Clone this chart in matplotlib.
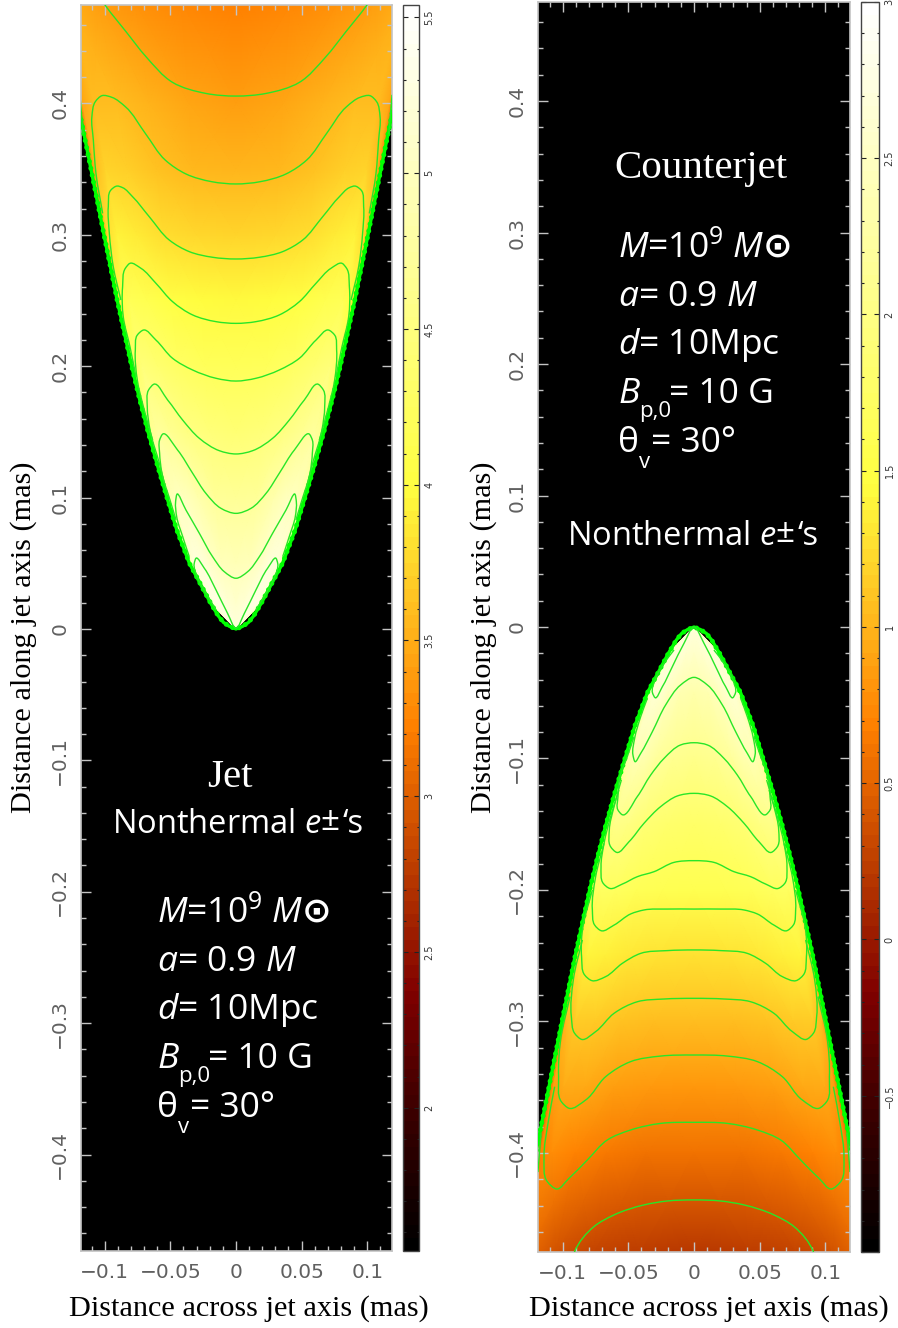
#!/usr/bin/env python
"""Jet / counterjet synchrotron maps: two tall panels with colour bars and contours."""
import numpy as np
import matplotlib as mpl
mpl.use("Agg")
import matplotlib.pyplot as plt
from matplotlib.colors import LinearSegmentedColormap
from matplotlib.cm import ScalarMappable
from matplotlib.colors import Normalize
from matplotlib.patches import PathPatch
from matplotlib.path import Path

W, H = 898, 1328
mpl.rcParams["mathtext.fontset"] = "custom"
mpl.rcParams["mathtext.rm"] = "Open Sans"
mpl.rcParams["mathtext.it"] = "Open Sans:italic"
mpl.rcParams["mathtext.fallback"] = "stix"

# jet edge, half width against distance along axis
EDGE_Z = [0, .002, .005, .01, .02, .035, .05, .075, .1, .125, .15, .175, .2, .25, .3, .35, .4, .476]
EDGE_X = [0, .005, .0095, .0135, .0195, .0275, .0355, .045, .0526, .06, .067, .0735, .0795, .0905, .1006, .1105, .1205, .14]

# map values, rows along the axis, columns as fraction of the half width
FRAC = [0, .3, .55, .75, .9, .97, 1]
JET_ROWS = [0, .02, .05, .1, .15, .2, .25, .3, .35, .4, .476]
JET_VALS = [
    [5.25, 5.25, 5.25, 5.25, 5.25, 5.25, 5.25],
    [5.13, 5.19, 5.25, 5.31, 5.25, 5.13, 4.88],
    [4.95, 4.99, 5.09, 5.25, 5.23, 5.0, 4.75],
    [4.69, 4.71, 4.88, 5.01, 5.0, 4.88, 4.63],
    [4.41, 4.45, 4.53, 4.66, 4.75, 4.63, 4.25],
    [4.19, 4.21, 4.28, 4.38, 4.45, 4.31, 3.9],
    [3.97, 3.99, 4.03, 4.12, 4.17, 4.0, 3.6],
    [3.73, 3.75, 3.8, 3.88, 3.93, 3.8, 3.4],
    [3.55, 3.57, 3.62, 3.7, 3.74, 3.6, 3.2],
    [3.41, 3.45, 3.53, 3.6, 3.6, 3.45, 3.1],
    [3.22, 3.26, 3.33, 3.41, 3.5, 3.4, 3.1],
]
CJET_ROWS = [0, -.02, -.05, -.1, -.15, -.2, -.25, -.3, -.35, -.4, -.476]
CJET_VALS = [
    [2.69, 2.69, 2.69, 2.69, 2.69, 2.69, 2.69],
    [2.55, 2.6, 2.66, 2.69, 2.66, 2.51, 2.26],
    [2.32, 2.36, 2.47, 2.64, 2.61, 2.39, 2.14],
    [2.06, 2.1, 2.2, 2.36, 2.39, 2.26, 2.01],
    [1.77, 1.81, 1.87, 1.99, 2.04, 1.89, 1.51],
    [1.58, 1.6, 1.64, 1.7, 1.72, 1.68, 1.3],
    [1.28, 1.29, 1.32, 1.36, 1.4, 1.3, .9],
    [1.05, 1.06, 1.08, 1.13, 1.15, 1.02, .6],
    [.82, .83, .87, .93, .95, .85, .5],
    [.58, .59, .63, .7, .76, .68, .4],
    [.2, .22, .27, .37, .52, .58, .4],
]

# contours, right half only (x, z), outermost level first for the jet
JET_CONTOURS = [
    ([0, .0229, .0483, .0686, .0838, .0996, .102],
     [.4056, .4076, .416, .4356, .4546, .4746, .478]),
    ([0, .0183, .0381, .0539, .0691, .0843, .0945, .1021, .1072, .1098, .1087, .1067, .1016],
     [.3387, .3404, .3463, .3569, .3772, .3975, .4046, .4059, .4013, .3899, .3721, .3468, .3163]),
    ([0, .0178, .0356, .0508, .0661, .0788, .0864, .0907, .0953, .0973, .0965, .0935, .0877],
     [.2816, .2829, .2872, .296, .3138, .329, .3359, .3371, .3341, .3214, .3011, .2757, .2504]),
    ([0, .0152, .033, .0483, .061, .0724, .0808, .0843, .0864, .0859, .0808, .0762],
     [.2326, .2339, .239, .2491, .2631, .2745, .2783, .2745, .2605, .2377, .2149, .192]),
    ([0, .0152, .033, .0483, .061, .0706, .0752, .0767, .0752, .0699, .0635],
     [.1887, .1908, .1971, .206, .2199, .2275, .2237, .2123, .1895, .1667, .1438]),
    ([0, .0127, .0279, .0407, .0521, .0628, .0666, .0676, .0655, .0584, .0539],
     [.1332, .1357, .1451, .1591, .1743, .1862, .1819, .1692, .1514, .1261, .1083]),
    ([0, .0114, .0229, .033, .0445, .0561, .0582, .0582, .0564, .0503, .0457],
     [.088, .0918, .1032, .1185, .1362, .1481, .1438, .1337, .1185, .0982, .083]),
    ([0, .0089, .0178, .0279, .0381, .045, .046, .0452, .0406, .0356],
     [.0386, .0436, .055, .0728, .0905, .1025, .0969, .0855, .0703, .055]),
    ([0, .0064, .0152, .0241, .0305, .0318, .0285, .0229, .0152],
     [.0005, .0119, .0297, .0462, .0538, .05, .0373, .0271, .0145]),
]
JET_EDGE_LINE = ([.1189, .1165], [.406, .377])

# counterjet, tip level first
CJET_CONTOURS = [
    ([0, .0076, .0165, .0241, .0297, .0315, .0292, .0228, .0152],
     [0, -.0124, -.0302, -.0454, -.0537, -.0504, -.039, -.0276, -.0175]),
    ([0, .0102, .0216, .0317, .0406, .0449, .0465, .0452, .0406, .0355],
     [-.0383, -.0441, -.0593, -.0796, -.0961, -.1024, -.0973, -.0847, -.0682, -.0542]),
    ([0, .0102, .0228, .033, .0432, .0551, .0579, .0579, .0564, .0508, .0457],
     [-.088, -.0897, -.0999, -.1126, -.129, -.1425, -.1392, -.129, -.1138, -.0986, -.0834]),
    ([0, .0127, .0254, .0381, .0495, .0589, .0635, .0645, .0609, .0553],
     [-.1265, -.1285, -.1366, -.1493, -.1633, -.1714, -.1671, -.1544, -.1366, -.1163]),
    ([0, .0152, .0305, .0432, .0546, .0642, .0691, .0708, .0685, .0635, .0571],
     [-.1777, -.179, -.1861, -.1899, -.1955, -.1988, -.195, -.1823, -.1645, -.1442, -.124]),
    ([0, .0203, .0381, .0482, .0609, .0706, .0757, .0774, .0749, .0685],
     [-.2145, -.2145, -.2152, -.2182, -.2267, -.231, -.2266, -.2152, -.1899, -.1645]),
    ([0, .0203, .0406, .0546, .0673, .0779, .0833, .0856, .085, .0774],
     [-.2456, -.2461, -.2482, -.2558, -.2659, -.2689, -.2646, -.2507, -.2304, -.2]),
    ([0, .0228, .0432, .0609, .0749, .0856, .0909, .0934, .0919, .085],
     [-.2824, -.2829, -.285, -.2938, -.3077, -.3136, -.309, -.2963, -.2684, -.238]),
    ([0, .0254, .0482, .0673, .0825, .0952, .101, .1031, .1016, .0944],
     [-.3255, -.3263, -.3305, -.342, -.3597, -.366, -.361, -.342, -.3141, -.2811]),
    ([0, .0254, .0482, .066, .0812, .0952, .1046, .1117, .1142, .1112, .1061],
     [-.3767, -.3775, -.3825, -.3901, -.4053, -.4193, -.4274, -.4218, -.4028, -.3775, -.3496]),
    ([0, .0203, .0381, .0609, .0762, .0909, .092],
     [-.4357, -.4365, -.4395, -.4471, -.456, -.475, -.478]),
]
CJET_EDGE_LINE = ([.1188, .1165], [-.414, -.385])

X_TICKS = [-.1, -.05, 0, .05, .1]
X_LABELS = ["\u22120.1", "\u22120.05", "0", "0.05", "0.1"]
Y_TICKS = [-.4, -.3, -.2, -.1, 0, .1, .2, .3, .4]
Y_LABELS = ["\u22120.4", "\u22120.3", "\u22120.2", "\u22120.1", "0", "0.1", "0.2", "0.3", "0.4"]
JET_CB_TICKS = [2, 2.5, 3, 3.5, 4, 4.5, 5, 5.5]
JET_CB_LABELS = ["2", "2.5", "3", "3.5", "4", "4.5", "5", "5.5"]
CJET_CB_TICKS = [-.5, 0, .5, 1, 1.5, 2, 2.5, 3]
CJET_CB_LABELS = ["\u22120.5", "0", "0.5", "1", "1.5", "2", "2.5", "3"]

STOPS = [(0, "#000000"), (.125, "#450000"), (.205, "#800000"), (.42, "#ff8000"),
         (.615, "#ffff40"), (1, "#ffffff")]
CMAP = LinearSegmentedColormap.from_list("jetheat", STOPS, N=256)
CMAP_BAR = LinearSegmentedColormap.from_list("jetheat_bar", STOPS, N=96)
GREEN, THIN_GREEN = "#00ff00", "#28e628"
FRAME = "#c4c4c4"


def smooth_path(x, z):
    # Hermite through the read points, tangents weighted by chord so tight bends do not overshoot
    p = np.column_stack([x, z])
    d = np.hypot(*np.diff(p, axis=0).T) + 1e-9
    t = np.zeros_like(p)
    t[1:-1] = (np.diff(p, axis=0)[:-1] / d[:-1, None] * d[1:, None]
               + np.diff(p, axis=0)[1:] / d[1:, None] * d[:-1, None]) / (d[:-1] + d[1:])[:, None]
    t[0], t[-1] = (p[1] - p[0]) / d[0], (p[-1] - p[-2]) / d[-1]
    verts, codes = [p[0]], [Path.MOVETO]
    for i in range(len(p) - 1):
        verts += [p[i] + t[i] * d[i] / 3, p[i + 1] - t[i + 1] * d[i] / 3, p[i + 1]]
        codes += [Path.CURVE4] * 3
    return Path(verts, codes)


def mirrored(x, z):
    x, z = np.asarray(x), np.asarray(z)
    return np.r_[-x[::-1], x[1:]], np.r_[z[::-1], z[1:]]


def panel(rect, rows, vals, contours, edge_line, sign, xlim, ylim, vmin, vmax):
    ax = fig.add_axes([rect[0] / W, 1 - rect[3] / H, (rect[2] - rect[0]) / W, (rect[3] - rect[1]) / H])
    ax.set_facecolor("black")
    frac = np.array(FRAC)
    s = np.r_[-frac[::-1], frac[1:]]
    v = np.array(vals)
    v = np.hstack([v[:, ::-1], v[:, 1:]])
    rows = np.array(rows)
    half = np.interp(np.abs(rows), EDGE_Z, EDGE_X)
    ax.pcolormesh(np.outer(half, s), np.outer(rows, np.ones_like(s)), v, shading="gouraud",
                  cmap=CMAP, vmin=vmin, vmax=vmax, zorder=1)
    # thick edge: stacked contours, slightly scalloped in the original
    ex, ez = np.array(EDGE_X), np.array(EDGE_Z) * sign
    ax.plot(*mirrored(ex, ez), color=GREEN, lw=2.4, zorder=3)
    ax.plot(*mirrored(ex, ez), color=GREEN, lw=3.6, zorder=3, linestyle=(0, (.01, 1.4)),
            dash_capstyle="round")
    for x, z in contours:
        ax.add_patch(PathPatch(smooth_path(*mirrored(x, z)), fill=False, ec=THIN_GREEN, lw=1.0, zorder=4))
    for m in (-1, 1):
        ax.plot(m * np.array(edge_line[0]), edge_line[1], color=THIN_GREEN, lw=1.0, zorder=4)
    ax.set_xlim(xlim)
    ax.set_ylim(ylim)
    ax.set_xticks(X_TICKS, X_LABELS)
    ax.set_yticks(Y_TICKS, Y_LABELS)
    ax.set_xticks(np.arange(-11, 12) / 100, minor=True)
    ax.set_yticks(np.arange(-23, 24) * .02, minor=True)
    ax.tick_params(which="major", direction="in", length=7.2, width=1, color=FRAME, top=True, right=True,
                   labelsize=14.5, labelcolor="#606060", pad=8.5)
    ax.tick_params(which="minor", direction="in", length=3.6, width=1, color=FRAME, top=True, right=True)
    for lab in ax.get_yticklabels():
        lab.set_rotation(90)
        lab.set_va("center")
    for sp in ax.spines.values():
        sp.set_color(FRAME)
        sp.set_linewidth(1.2)
    ax.set_axisbelow(False)
    return ax


def colorbar(rect, vmin, vmax, ticks, labels):
    cax = fig.add_axes([rect[0] / W, 1 - rect[3] / H, (rect[2] - rect[0]) / W, (rect[3] - rect[1]) / H])
    cb = fig.colorbar(ScalarMappable(Normalize(vmin, vmax), CMAP_BAR), cax=cax)
    cb.set_ticks(ticks, labels=labels)
    cb.set_ticks(np.arange(np.ceil(vmin * 10), np.floor(vmax * 10) + 1) / 10, minor=True)
    cax.tick_params(which="major", direction="in", left=True, right=True, length=3.6, width=.8, color="#222222",
                    labelsize=7, labelcolor="#333333", pad=4)
    cax.tick_params(which="minor", direction="in", left=True, right=True, length=1.8, width=.8, color="#222222")
    for lab in cax.get_yticklabels():
        lab.set_rotation(90)
        lab.set_va("center")
    cb.outline.set_edgecolor("#444444")
    cb.outline.set_linewidth(1)


def put(x, y, s, size=25.5, font="Open Sans", **kw):
    fig.text(x / W, 1 - y / H, s, color=kw.pop("color", "white"), fontsize=size, family=font, va="baseline", **kw)


def params(dx, dy):
    # the parameter block, same in both panels
    put(157 + dx, 922 + dy, r"$\mathit{M}$=10$^{9}$ $\mathit{M}\mathbf{\odot}$")
    put(157 + dx, 971 + dy, r"$\mathit{a}$= 0.9 $\mathit{M}$")
    put(157 + dx, 1019 + dy, r"$\mathit{d}$= 10Mpc")
    put(157 + dx, 1068 + dy, r"$\mathit{B}$")
    put(178 + dx, 1082 + dy, "p,0", size=16)
    put(208 + dx, 1068 + dy, "= 10 G")
    put(157 + dx, 1117 + dy, "\u03b8")
    put(178 + dx, 1133 + dy, "v", size=16)
    put(190 + dx, 1117 + dy, "= 30\u00b0")


def species(x, y):
    put(x, y, r"Nonthermal $\mathit{e}$", size=23.5)
    put(x + 208, y - 3, "\u00b1", size=24)
    put(x + 231, y, "\u2018s", size=23.5)


fig = plt.figure(figsize=(W / 100, H / 100), dpi=100, facecolor="white")
panel((81, 5, 392, 1251), JET_ROWS, JET_VALS, JET_CONTOURS, JET_EDGE_LINE, 1,
      (-.1181, .1189), (-.4734, .4749), 1.54, 5.54)
panel((538, 2, 850, 1252), CJET_ROWS, CJET_VALS, CJET_CONTOURS, CJET_EDGE_LINE, -1,
      (-.1188, .1188), (-.4753, .4753), -1, 3)
colorbar((403, 5, 419, 1251), 1.54, 5.54, JET_CB_TICKS, JET_CB_LABELS)
colorbar((861, 2, 879, 1252), -1, 3, CJET_CB_TICKS, CJET_CB_LABELS)

put(249, 1316, "Distance across jet axis (mas)", size=21.8, font="Liberation Serif", color="black", ha="center")
put(709, 1316, "Distance across jet axis (mas)", size=21.8, font="Liberation Serif", color="black", ha="center")
for xp in (24, 484):
    fig.text(xp / W, 1 - 637 / H, "Distance along jet axis (mas)", rotation=90, fontsize=21.8, color="black",
             family="Liberation Serif", ha="center", va="center")

put(230, 787, "Jet", size=29.5, font="Liberation Serif", ha="center")
put(701, 178, "Counterjet", size=29.5, font="Liberation Serif", ha="center")
species(112, 833)
species(567, 545)
params(0, 0)
params(461, -665)

fig.savefig("out.png", dpi=100)
